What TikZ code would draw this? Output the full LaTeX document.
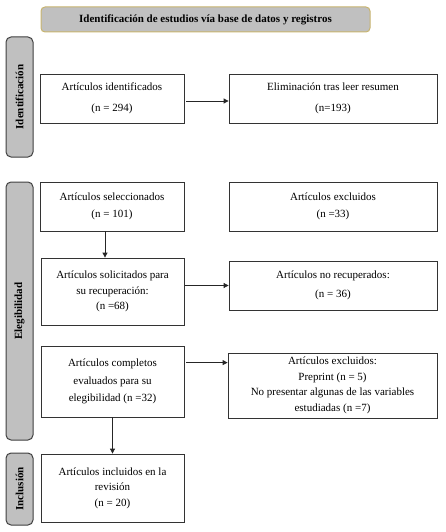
\documentclass[tikz,border=0pt]{standalone}
\usepackage{fontspec}
\setmainfont{Liberation Serif}
\usetikzlibrary{arrows.meta}
\definecolor{bandgray}{HTML}{C0C0C0}
\definecolor{bandedge}{HTML}{404040}
\definecolor{tan}{HTML}{C8B46E}
\begin{document}
\begin{tikzpicture}[x=1pt,y=-1pt,
  box/.style={draw=black!80, line width=0.8pt, fill=white, align=center, inner sep=2pt,
    font=\fontsize{11}{12.5}\selectfont},
  band/.style={draw=bandedge, line width=1pt, fill=bandgray, rounded corners=5pt,
    minimum width=27pt},
  bandtext/.style={rotate=90, font=\fontsize{11}{13}\selectfont\bfseries},
  header/.style={draw=tan, line width=1pt, fill=bandgray, rounded corners=4pt,
    font=\fontsize{11}{12}\selectfont\bfseries},
  arr/.style={-{Triangle[length=5pt,width=5pt]}, line width=0.8pt, black!85}]
\useasboundingbox (0,0) rectangle (446,532);
\node[header, minimum width=329pt, minimum height=25pt] (hd) at (205.5,19.5) {Identificación de estudios vía base de datos y registros};
\node[band, minimum height=120pt] (bid) at (19.5,97) {};
\node[bandtext] (tid) at (bid.center) {Identificación};
\node[band, minimum height=258pt] (bel) at (19.5,311) {};
\node[bandtext] (tel) at (bel.center) {Elegibilidad};
\node[band, minimum height=72pt] (bin) at (19.5,489) {};
\node[bandtext] (tin) at (bin.center) {Inclusión};

\node[box, minimum width=144pt, minimum height=49pt] (ide) at (112,98.5) {Artículos identificados\\[8pt](n = 294)};
\node[box, minimum width=208pt, minimum height=49pt] (eli) at (333,98.5) {Eliminación tras leer resumen\\[8pt](n=193)};
\node[box, minimum width=144pt, minimum height=49pt] (sel) at (112,206.5) {Artículos seleccionados\\[5pt](n = 101)};
\node[box, minimum width=208pt, minimum height=49pt] (exc) at (333,206.5) {Artículos excluidos\\[5pt](n =33)};
\node[box, minimum width=143pt, minimum height=67pt] (sol) at (112.5,291.5) {Artículos solicitados para\\[3pt]su recuperación:\\[3pt](n =68)};
\node[box, minimum width=208pt, minimum height=49pt] (nor) at (333,285.5) {Artículos no recuperados:\\[6pt](n = 36)};
\node[box, minimum width=143pt, minimum height=71pt] (com) at (112.5,381.5) {Artículos completos\\[5pt]evaluados para su\\[5pt]elegibilidad (n =32)};
\node[box, minimum width=209pt, minimum height=65pt] (ex2) at (332.5,385.5) {Artículos excluidos:\\[3pt]Preprint (n = 5)\\[3pt]No presentar algunas de las variables\\[3pt]estudiadas (n =7)};
\node[box, minimum width=143pt, minimum height=68pt] (inc) at (112.5,488) {Artículos incluidos en la\\[3pt]revisión\\[3pt](n = 20)};

\draw[arr] ([xshift=2pt,yshift=-2.5pt]ide.east) -- ([yshift=-2.5pt]eli.west);
\draw[arr] ([xshift=-7pt]sel.south) -- ([xshift=-7.5pt]sol.north);
\draw[arr] ([xshift=1pt]sol.east |- nor.west) -- (nor.west);
\draw[arr] ([xshift=2pt,yshift=-17pt]com.north east) -- ([xshift=0pt,yshift=-17pt]com.north east -| ex2.west);
\draw[arr] (com.south) -- (inc.north);
\end{tikzpicture}
\end{document}
